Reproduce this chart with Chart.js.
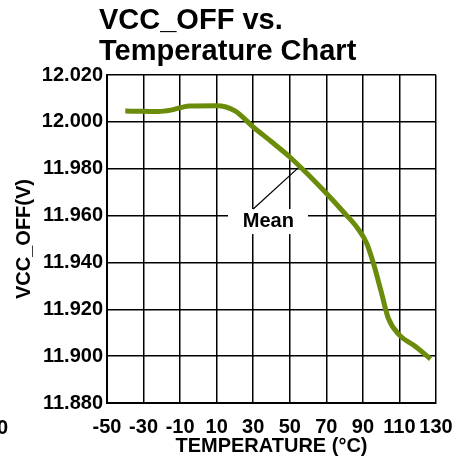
<!DOCTYPE html>
<html>
<head>
<meta charset="utf-8">
<script src="https://cdn.jsdelivr.net/npm/chart.js@4.4.1/dist/chart.umd.min.js"></script>
<style>
  html, body { margin: 0; padding: 0; background: #fff; }
  #wrap { width: 467px; height: 470px; position: relative; }
</style>
</head>
<body>
<div id="wrap"><canvas id="vccChart"></canvas></div>
<script>
// values
const temps = [-40, -30, -22, -15, -5, 10, 20, 30, 40, 50, 60, 70, 80, 87, 92, 96, 100, 104, 110, 118, 127];
const vccOff = [12.0046, 12.0045, 12.0044, 12.0050, 12.0068, 12.0069, 12.0047, 11.9978, 11.9915, 11.9850,
  11.9775, 11.9695, 11.9610, 11.9547, 11.9483, 11.9390, 11.9275, 11.9160, 11.9090, 11.9045, 11.8988];
const titleLines = ["VCC_OFF vs.", "Temperature Chart"];
const meanLabel = "Mean";

const FONT = "'Liberation Sans', Arial, sans-serif";

// title, the "Mean" callout and the stray clipped label
const extras = {
  id: "extras",
  beforeDatasetsDraw(chart) {
    const ctx = chart.ctx;
    const x = chart.scales.x;
    const y = chart.scales.y;
    ctx.save();
    // white box behind the label
    const bx1 = x.getPixelForValue(16.2), bx2 = x.getPixelForValue(60);
    const by1 = y.getPixelForValue(11.9628), by2 = y.getPixelForValue(11.9521);
    ctx.fillStyle = "#fff";
    ctx.fillRect(bx1, by1, bx2 - bx1, by2 - by1);
    // leader line
    ctx.strokeStyle = "#000";
    ctx.lineWidth = 1.2;
    ctx.beginPath();
    ctx.moveTo(x.getPixelForValue(30), y.getPixelForValue(11.9628));
    ctx.lineTo(x.getPixelForValue(55.5), y.getPixelForValue(11.9810));
    ctx.stroke();
    ctx.fillStyle = "#000";
    ctx.font = "bold 20px " + FONT;
    ctx.textAlign = "center";
    ctx.textBaseline = "middle";
    ctx.fillText(meanLabel, x.getPixelForValue(38.3), y.getPixelForValue(11.9573));
    ctx.restore();
  },
  afterDraw(chart) {
    const ctx = chart.ctx;
    ctx.save();
    ctx.fillStyle = "#000";
    ctx.font = "bold 29px " + FONT;
    ctx.textAlign = "left";
    ctx.textBaseline = "alphabetic";
    ctx.fillText(titleLines[0], 99, 29);
    ctx.fillText(titleLines[1], 99, 60);
    // clipped label at the far left edge
    ctx.font = "bold 20px " + FONT;
    ctx.fillText("0", -3, 434);
    ctx.restore();
  }
};

new Chart(document.getElementById("vccChart"), {
  type: "line",
  data: {
    datasets: [
      {
        label: "Mean",
        data: temps.map((t, i) => ({ x: t, y: vccOff[i] })),
        borderColor: "#6b8c0a",
        borderWidth: 5,
        pointRadius: 0,
        fill: false,
        cubicInterpolationMode: "monotone",
      },
    ],
  },
  options: {
    responsive: true,
    maintainAspectRatio: false,
    animation: false,
    layout: {
      padding: { left: 0, right: 31, top: 75, bottom: 0 },
    },
    scales: {
      x: {
        type: "linear",
        min: -50,
        max: 130,
        afterFit: (axis) => { axis.height = 67; },
        ticks: {
          stepSize: 20,
          color: "#000",
          padding: 12,
          maxRotation: 0,
          autoSkip: false,
          font: { family: FONT, size: 20, weight: "bold" },
        },
        grid: { color: "#000", lineWidth: 1.5, drawTicks: false },
        border: { color: "#000", width: 2 },
        title: {
          display: true,
          text: "TEMPERATURE (°C)",
          color: "#000",
          padding: { top: 0, bottom: 12 },
          font: { family: FONT, size: 20, weight: "bold" },
        },
      },
      y: {
        min: 11.88,
        max: 12.02,
        afterFit: (axis) => { axis.width = 107; },
        ticks: {
          stepSize: 0.02,
          color: "#000",
          padding: 4,
          callback: (v) => v.toFixed(3),
          font: { family: FONT, size: 20, weight: "bold" },
        },
        grid: { color: "#000", lineWidth: 1.5, drawTicks: false },
        border: { color: "#000", width: 2 },
        title: {
          display: true,
          text: "VCC_OFF(V)",
          color: "#000",
          padding: { top: 12, bottom: 0 },
          font: { family: FONT, size: 20, weight: "bold" },
        },
      },
    },
    plugins: {
      legend: { display: false },
      title: { display: false },
      tooltip: { enabled: false },
    },
  },
  plugins: [extras],
});
</script>
</body>
</html>
